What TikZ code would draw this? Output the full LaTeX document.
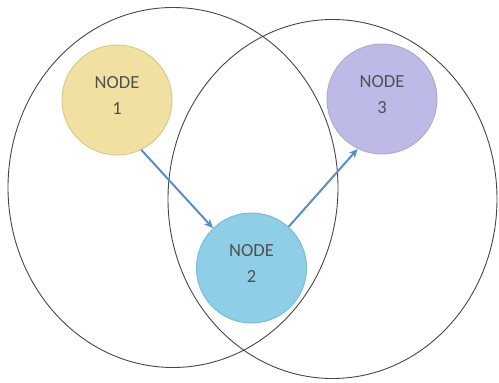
\documentclass[tikz,border=0pt]{standalone}
\usepackage{fontspec}
\setmainfont{Carlito}
\usetikzlibrary{arrows.meta}
\definecolor{ringcol}{RGB}{70,70,70}
\definecolor{txtcol}{RGB}{80,80,80}
\definecolor{fillA}{RGB}{240,225,162}
\definecolor{drawA}{RGB}{218,202,140}
\definecolor{fillB}{RGB}{142,206,230}
\definecolor{drawB}{RGB}{120,190,215}
\definecolor{fillC}{RGB}{190,186,232}
\definecolor{drawC}{RGB}{175,172,200}
\definecolor{arrcol}{RGB}{88,142,200}
\tikzset{
  ring/.style={draw=ringcol, line width=0.9pt},
  nodecirc/.style={circle, minimum size=110pt, inner sep=0pt, line width=1pt,
    align=center, text=txtcol, font=\fontsize{18.5}{26}\selectfont},
  conn/.style={draw=arrcol, line width=2pt, -{Stealth[length=9pt,width=8pt]}}
}
\begin{document}
\begin{tikzpicture}[x=1pt,y=-1pt]
\useasboundingbox (0,0) rectangle (499,383);
\draw[ring] (173,187.5) ellipse [x radius=165pt, y radius=180pt];
\draw[ring] (332.5,199) ellipse [x radius=164.5pt, y radius=179.5pt];
\node[nodecirc, fill=fillA, draw=drawA] (n1) at (117,100) {NODE\\1\\[-16pt]\mbox{}};
\node[nodecirc, fill=fillB, draw=drawB] (n2) at (251.5,268) {NODE\\2\\[-16pt]\mbox{}};
\node[nodecirc, fill=fillC, draw=drawC] (n3) at (382,99) {NODE\\3\\[-16pt]\mbox{}};
\draw[conn] (n1.-64) -- (n2.134);
\draw[conn] (n2.48) -- (n3.244);
\end{tikzpicture}
\end{document}
